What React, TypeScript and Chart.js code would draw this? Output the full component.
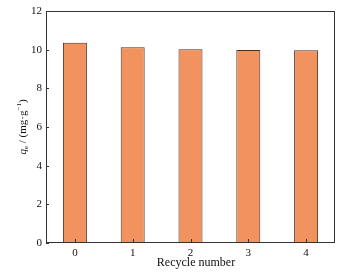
import React, { useEffect, useRef } from "react";
import { Chart, registerables } from "chart.js";

Chart.register(...registerables);

const categories = ["0", "1", "2", "3", "4"];
const qeValues = [10.36, 10.12, 10.02, 9.98, 9.97];
const yTicks = [0, 2, 4, 6, 8, 10, 12];

const FONT = "'Liberation Serif', 'DejaVu Serif', serif";

const framePlugin = {
  id: "frame",
  afterDraw(chart: any) {
    const { ctx, chartArea } = chart;
    const { left, right, top, bottom } = chartArea;
    const xs = chart.scales.x;
    const ys = chart.scales.y;
    ctx.save();
    ctx.strokeStyle = "#333";
    ctx.lineWidth = 1;
    ctx.strokeRect(left + 0.5, top + 0.5, right - left - 1, bottom - top - 1);
    ctx.beginPath();
    yTicks.forEach((v) => {
      const py = Math.round(ys.getPixelForValue(v)) + 0.5;
      ctx.moveTo(left, py);
      ctx.lineTo(left + 3, py);
    });
    categories.forEach((_, i) => {
      const px = Math.round(xs.getPixelForValue(i)) + 0.5;
      ctx.moveTo(px, bottom);
      ctx.lineTo(px, bottom - 4);
    });
    ctx.stroke();

    // x title
    ctx.fillStyle = "#111";
    ctx.font = `12px ${FONT}`;
    ctx.textAlign = "center";
    ctx.textBaseline = "middle";
    ctx.fillText("Recycle number", 196, 263);

    // y title with rich text
    const cy = (top + bottom) / 2;
    ctx.translate(23, cy);
    ctx.rotate(-Math.PI / 2);
    const parts = [
      { t: "q", f: `italic 11px ${FONT}`, dy: 0 },
      { t: "e", f: `7px ${FONT}`, dy: 3 },
      { t: " / (mg·g", f: `11px ${FONT}`, dy: 0 },
      { t: "−1", f: `7px ${FONT}`, dy: -4 },
      { t: ")", f: `11px ${FONT}`, dy: 0 },
    ];
    let total = 0;
    parts.forEach((p) => {
      ctx.font = p.f;
      total += ctx.measureText(p.t).width;
    });
    let x = -total / 2;
    ctx.textAlign = "left";
    ctx.textBaseline = "middle";
    parts.forEach((p) => {
      ctx.font = p.f;
      ctx.fillText(p.t, x, p.dy);
      x += ctx.measureText(p.t).width;
    });
    ctx.restore();
  },
};

export default function App() {
  const ref = useRef<HTMLCanvasElement>(null);
  useEffect(() => {
    document.body.style.margin = "0";
    const chart = new Chart(ref.current!, {
      type: "bar",
      data: {
        labels: categories,
        datasets: [
          {
            data: qeValues,
            backgroundColor: "#F2925E",
            borderColor: "#4a3020",
            borderWidth: 1,
            barPercentage: 0.415,
            categoryPercentage: 1,
          },
        ],
      },
      options: {
        animation: false,
        responsive: false,
        layout: { padding: { top: 11, right: 21, left: 0, bottom: 0 } },
        plugins: { legend: { display: false }, tooltip: { enabled: false } },
        scales: {
          x: {
            grid: { display: false, drawTicks: false },
            border: { display: false },
            ticks: { color: "#111", font: { family: FONT, size: 11 }, padding: 4 },
            afterFit: (s: any) => {
              s.height = 34;
            },
          },
          y: {
            min: 0,
            max: 12,
            grid: { display: false, drawTicks: false },
            border: { display: false },
            ticks: { stepSize: 2, color: "#111", font: { family: FONT, size: 11 }, padding: 4 },
            afterFit: (s: any) => {
              s.width = 46;
            },
          },
        },
      },
      plugins: [framePlugin],
    });
    return () => chart.destroy();
  }, []);
  return <canvas ref={ref} width={356} height={277} style={{ display: "block" }} />;
}
